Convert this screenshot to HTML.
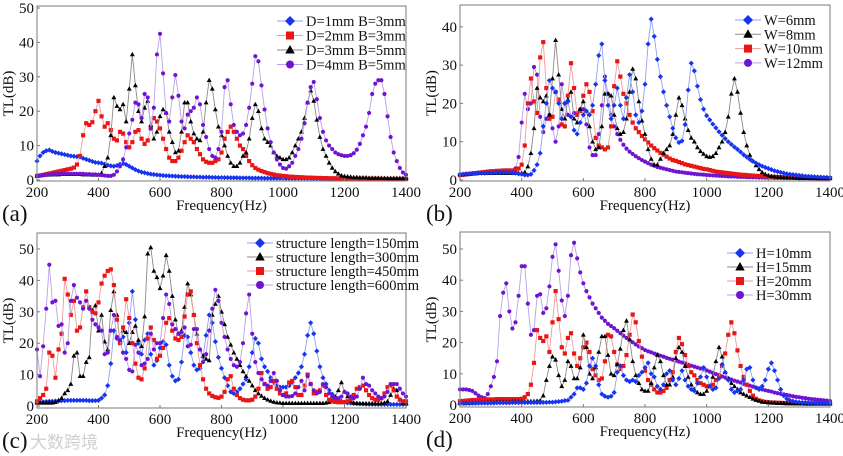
<!DOCTYPE html>
<html><head><meta charset="utf-8">
<style>
html,body{margin:0;padding:0;background:#fff;}
svg{display:block;}
svg text{font-family:"Liberation Serif","Noto Serif CJK SC",serif;}
</style></head>
<body>
<svg id="fig" width="843" height="456" viewBox="0 0 843 456" xmlns="http://www.w3.org/2000/svg" font-family="Liberation Serif, serif">
<rect x="0" y="0" width="843" height="456" fill="#fff"/>
<text x="30" y="448" style="font-family:'Liberation Sans','Noto Sans CJK SC',sans-serif" font-size="17" fill="#d0d0d0">大数跨境</text>
</svg>
<script>
const freqs = [];
for (let f = 200; f <= 1400; f += 10) freqs.push(f);
const xTicks = [200,400,600,800,1000,1200,1400];

const aBlue = [5.5,7,8,8.5,8.7,8.3,8,7.8,7.6,7.4, 7.2,7,6.9,6.8,6.7,6.3,6,5.7,5.4,5.1, 5,4.9,4.6,4.3,4.1,4,4.2,4.6,4.8,4.5, 4,3.5,3,2.6,2.3,2.1,1.9,1.7,1.6,1.5, 1.4,1.3,1.25,1.2,1.15,1.1,1.05,1,1,0.95, 0.9,0.9,0.85,0.85,0.8,0.8,0.8,0.75,0.75,0.7, 0.7,0.7,0.7,0.65,0.65,0.65,0.6,0.6,0.6,0.6, 0.55,0.55,0.55,0.55,0.5,0.5,0.5,0.5,0.5,0.5, 0.45,0.45,0.45,0.45,0.45,0.45,0.45,0.45,0.45,0.45, 0.4,0.4,0.4,0.4,0.4,0.4,0.4,0.4,0.4,0.4, 0.4,0.4,0.4,0.35,0.35,0.35,0.35,0.35,0.35,0.35, 0.3,0.3,0.3,0.3,0.3,0.3,0.3,0.3,0.3,0.3, 0.3];
const aRed = [1.2,1.3,1.5,1.7,1.9,2.1,2.3,2.5,2.7,2.9, 3.1,3.3,3.6,4.5,7,13,16.5,16,16.8,20, 23,18.5,15.5,16.5,14.5,12,11.5,14,13.5,11, 9.5,11,14,14.5,12,10.5,11.5,15,18,17, 15,12,9,6.5,5.5,5.5,6.5,8.5,11,13, 12,11,9,7.5,6,5.3,5,5,5.5,6, 8,12,14,15.5,14,12,10,9,7,5.5, 4.3,3.5,3,2.6,2.3,2,1.8,1.6,1.4,1.3, 1.2,1.1,1,0.95,0.9,0.85,0.8,0.75,0.7,0.7, 0.65,0.6,0.6,0.55,0.55,0.5,0.5,0.5,0.45,0.45, 0.45,0.45,0.4,0.4,0.4,0.4,0.4,0.35,0.35,0.35, 0.35,0.35,0.3,0.3,0.3,0.3,0.3,0.3,0.3,0.3, 0.3];
const aBlack = [1.2,1.3,1.4,1.5,1.5,1.6,1.6,1.6,1.7,1.7, 1.7,1.7,1.7,1.7,1.7,1.6,1.6,1.6,1.5,1.5, 1.5,2,4,6.5,13,24,21.5,20.5,22,17, 26.5,36.5,27.5,20,17,21,23,16,12,14, 18.5,20.5,19.5,14,11,8,8.5,14,22.5,22.5, 17,13.5,12,11.5,14,22.5,29,26.5,20.5,15.5, 13,10,7,5,4,4,5,7,8,12, 18,22,20,15,12,11,10,8,7,6.5, 6,6,6.5,8,10,12,14,18,22.5,26, 23,17.5,12.5,9,7,5,3.5,2.5,1.8,1.3, 1.1,1,0.9,0.8,0.8,0.7,0.7,0.7,0.6,0.6, 0.6,0.6,0.55,0.55,0.5,0.5,0.5,0.5,0.5,0.5, 0.5];
const aPurple = [1.2,1.3,1.4,1.5,1.6,1.7,1.7,1.8,1.8,1.8, 1.8,1.8,1.8,1.8,1.8,1.8,1.7,1.7,1.6,1.6, 1.5,1.4,1.3,1.2,1.2,1.5,2.5,4,6,9.5, 13.5,17.5,22.5,22,18,25,24,15,21,36.5, 42.5,31,19.5,17,24,30.5,24.5,17,15,19, 20,21,24,22,16,12.5,9,7,6.5,9, 14,27,29,22,16,14,13,13.5,16,21, 28,36,34.5,27.5,20.5,15,11,8,6,4.5, 3.5,3.3,4,5,7,9,12,16.5,22.5,27, 28.5,23.5,18,14,11.5,10,9,8,7.5,7.2, 7,7,7.2,7.8,8.8,10.5,13,15.5,19.5,25, 28,29,29,25,18.5,12.5,8,5.5,3.5,2.2, 1.5];

const bBlue = [1.5,1.5,1.6,1.6,1.7,1.7,1.8,1.8,1.8,1.9, 1.9,1.9,2,2,2,2,2,1.9,1.8,1.6, 1.5,1.3,1.3,1.5,2.5,4,7,14,20,26, 24,23,20,16,20,20.5,16.5,13,12,15, 17,18,17,19.5,25,32.5,35.5,26,19.5,16, 19.5,24,19.5,16,21.5,27.5,23,17,15,18, 25,35.5,42,37.5,31.5,27,23,19.5,16.5,13.5, 11,9.8,10.2,14.5,23.5,30.5,28.5,24.5,21,18.5, 16.8,15.7,14.6,13.6,12.6,11.7,10.8,10,9.3,8.6, 8,7.3,6.6,6,5.4,4.9,4.4,4,3.6,3.3, 3,2.7,2.4,2.2,2,1.8,1.6,1.5,1.4,1.3, 1.2,1.1,1,0.95,0.9,0.85,0.8,0.75,0.7,0.7, 0.65];
const bBlack = [1.5,1.5,1.6,1.6,1.7,1.7,1.8,1.8,1.8,1.8, 1.8,1.8,1.8,1.8,1.8,1.8,1.8,1.8,1.8,1.8, 1.8,2,3.5,7,13.5,24,21.5,20.5,22,17, 26.5,36.5,27.5,18.5,16,21,23,16,15,18.5, 20.5,18,14,10,8,8.5,14,22.5,22.5,22, 17,13.5,12,12.5,16,23,29,26.5,20.5,15.5, 12,8,5.5,4,4,5.5,7,8,9,12, 17,21.5,19.5,16,13,11,10,8.5,7.5,6.8, 6.2,6,6.2,7,8.5,10,12.5,16.5,22.5,26.5, 23,17.5,12.5,9,6.5,5,3.8,2.8,2,1.5, 1.2,1,0.9,0.8,0.75,0.7,0.65,0.6,0.6,0.55, 0.55,0.5,0.5,0.5,0.5,0.5,0.45,0.45,0.45,0.45, 0.45];
const bRed = [1.3,1.4,1.5,1.6,1.7,1.8,1.9,2,2.1,2.2, 2.3,2.3,2.4,2.4,2.5,2.5,2.5,2.5,2.5,3, 4,9,20,26.5,20.5,17.5,32,36,24,16, 16.5,23,21,14.5,14,22,30.5,24,17,18, 22,25,23,18,11,9,8.5,8,8.5,14, 24.5,31,27,22.5,20,17,15,13.5,12.5,11.5, 10.6,9.8,9,8.3,7.7,7.1,6.6,6.1,5.6,5.2, 5,4.7,4.4,4.1,3.9,3.7,3.5,3.3,3.1,2.9, 2.8,2.6,2.4,2.2,2.1,2,1.9,1.8,1.7,1.6, 1.5,1.4,1.35,1.3,1.2,1.15,1.1,1.05,1,0.95, 0.9,0.85,0.8,0.8,0.75,0.7,0.7,0.65,0.65,0.6, 0.6,0.6,0.55,0.55,0.5,0.5,0.5,0.5,0.5,0.5, 0.5];
const bPurple = [1.2,1.3,1.4,1.5,1.6,1.7,1.8,1.9,2,2.1, 2.2,2.3,2.3,2.4,2.4,2.5,2.5,2.5,3,6, 15,22.5,18.5,20,29.5,27.5,16.5,12.5,16,17, 13.5,10,14,25,20,17,16.5,17.5,17.5,18.5, 18.5,14.5,8.5,6.5,6.5,12,19.5,27,22.5,17, 14,12,10.5,9.2,8.2,7.4,6.8,6.2,5.7,5.2, 4.8,4.4,4,3.7,3.4,3.2,3,2.8,2.6,2.4, 2.2,2.1,2,1.9,1.8,1.7,1.6,1.5,1.45,1.4, 1.3,1.25,1.2,1.15,1.1,1.05,1,0.95,0.9,0.9, 0.85,0.8,0.8,0.75,0.75,0.7,0.7,0.65,0.65,0.6, 0.6,0.6,0.55,0.55,0.55,0.5,0.5,0.5,0.5,0.5, 0.45,0.45,0.45,0.45,0.45,0.45,0.45,0.45,0.45,0.45, 0.45];

const cBlue = [1,1.2,1.3,1.4,1.5,1.5,1.6,1.6,1.7,1.7, 1.8,1.8,1.8,1.8,1.8,1.8,1.8,1.7,1.7,1.7, 1.8,2.5,3.5,6.5,13.5,24,21.5,20.5,22,17, 26.5,36.5,27.5,20,16.5,21,23,16.5,13,14.5, 18.5,20.5,19.5,13,9.5,8,8.5,14,22.5,22, 17,13,11.5,12,15.5,22.5,29,26.5,20.5,15.5, 12,9,6.5,4.5,4,4.5,5.5,7,8.5,12.5, 17,21.5,20,15,12.5,11,9,7.5,6.5,6, 6,6,6.5,7.5,9,10.5,12.5,16.5,22.5,26.5, 23,17.5,12.5,9,7,5,3.8,2.8,2,1.5, 1.2,1,0.9,0.8,0.75,0.7,0.65,0.6,0.6,0.55, 0.55,0.5,0.5,0.5,0.5,0.5,0.5,0.5,0.5,0.5, 0.5];
const cBlack = [1,1,1,1,1,1,1.2,1.8,2.5,4, 5,7,16,17,9.5,9.5,14,15.5,30.5,32, 24,29,20.5,18,30.5,36.5,29,20.5,24,23.5, 20,23.5,25.5,21,19,28.5,48.5,50.5,43,41, 37.5,41.5,48,43,35,27.5,23,24,31.5,39, 35.5,29,23,18,16,15,14.5,29,32.5,35, 30,26,22,19.5,17,15,13,11,9.5,8, 6.5,5,4,3.2,2.5,2,1.6,1.3,1.1,1, 0.9,0.9,0.9,0.9,0.9,0.9,0.9,0.9,0.9,0.9, 0.9,0.9,0.9,0.9,1,1.2,1.8,3,5,7.5, 4.5,3,1.5,1,0.9,0.8,0.8,0.8,0.8,0.8, 0.8,0.8,0.9,1,1.5,3.5,5.5,5,2,1, 0.8];
const cRed = [1.5,2.5,3.5,5.5,17,16,9,18,23,40.5, 35.5,29,33.5,24,25,31.5,36.5,31.5,30,29.5, 33,39,41.5,43,43.5,38.5,27.5,20,25,34, 28,20,13.5,9,8.5,12,21.5,25,21,15, 16,18.5,26.5,28,24,21.5,21,22,28.5,35.5, 36.5,29,20,13,8.5,5.5,4,3.2,2.8,2.6, 3,4.5,8.5,9.5,5.5,3.5,2.5,2,1.8,1.8, 2,3,5.5,10.5,7,5.5,6,8,5.5,4, 3.5,4,7.5,8,6,3.5,3.5,6.5,10,7, 4,4.5,5,6.5,3.5,2,1.5,1.3,1.2,1.2, 1.2,1.5,2,3.5,5.5,6,6.5,5,3.5,2.5, 2,2,2.5,4,6,6.5,5,3,2,1.5, 1.5];
const cPurple = [18,9.5,19,31,45,33,33.5,25.5,26,17, 20,33.5,38.5,34.5,33,31,33.5,31,27.5,26, 25,24,16.5,17,24,29,22,21,17,15, 11.5,11,19.5,17,13,13.5,15,23,18,20, 20,28,35.5,32.5,26,24.5,23,23.5,25,19, 19.5,24.5,24.5,18,14,16.5,24,31,37,33.5, 26.5,22,18,15,13,12.5,14,20,29.5,35.5, 23,14,10.5,8.5,7,6.5,8,10.5,8,5, 3.5,3,3,3.2,4,6,8,5,9.5,7, 5,4,4.5,7,6,4,3,2.5,2.5,3, 4.5,4,3,2.5,3,5.5,9,7,6.5,5, 4,3,2.5,3,4.5,7,7,7,5.5,4, 3];

const dBlue = [0.5,0.5,0.5,0.5,0.55,0.55,0.6,0.6,0.6,0.6, 0.65,0.65,0.7,0.7,0.7,0.7,0.7,0.75,0.75,0.75, 0.75,0.8,0.8,0.8,0.8,0.8,0.8,0.85,0.85,0.9, 0.9,1,1.1,1.2,1.4,1.5,2.5,3.5,5.5,5.5, 5,7,12.5,15,12.5,6.5,3.5,2.8,2.5,2.8, 4,10.5,12.5,9.5,8,7.5,8,7.5,9.5,10.5, 12,13.5,10,9,6,5,6.5,10,11,8, 6.5,8.5,11,8,6,5,4.5,7,9,12, 9,6,5,5.5,8.5,13,10.5,8,5,4, 4.5,5,8,11.5,12,8,5.5,5,6,8, 11.5,13.5,11,8,5,3,2,1.5,1.2,1, 0.9,0.8,0.8,0.7,0.7,0.7,0.6,0.6,0.6,0.6, 0.6];
const dBlack = [0.5,0.5,0.6,0.6,0.7,0.7,0.8,0.8,0.8,0.9, 0.9,0.9,1,1,1,1,1,1.1,1.1,1.1, 1.1,1.2,1.2,1.2,1.2,1.3,1.4,3,8,12.5, 15.5,14.5,9.5,6,8,14,12.5,8.5,8.5,12, 22.5,18.5,10,8.5,12,17,22,22,16,10, 9.5,13,18,24,27,21,14,9.5,7,5, 4.5,4.5,7,12,16,14,9.5,6.5,6.5,9, 15,18.5,17,12.5,9,6.5,5,4,3.5,3.5, 4.5,6,9,14,18.5,15.5,10.5,8.5,7,6, 5,4,3.5,3,2.5,2,1.6,1.3,1,0.9, 0.8,0.7,0.7,0.6,0.6,0.55,0.5,0.5,0.5,0.45, 0.45,0.45,0.4,0.4,0.4,0.4,0.4,0.4,0.4,0.4, 0.4];
const dRed = [1.2,1.3,1.4,1.5,1.6,1.6,1.7,1.7,1.8,1.8, 1.8,1.8,1.9,1.9,1.9,1.9,1.9,1.9,1.9,1.9, 2,2.5,3.5,6.5,13.5,24,21.5,20.5,22,17, 26.5,36.5,27.5,18.5,16.5,21.5,23,16.5,12.5,15, 18.5,20,17,11.5,9.5,8,8.5,14,22.5,22, 17,13,11.5,12.5,16,22.5,29,26.5,20.5,15.5, 11,8,6.5,5,4,4,4.5,5.5,8,10.5, 17,21.5,19.5,16,12.5,10.5,9.5,8,7,6.5, 6,6,6.5,8,9.5,12.5,16.5,22.5,26.5,23, 17.5,12.5,9,6.5,4.5,3,2,1.5,1.2,1, 0.9,0.8,0.8,0.7,0.7,0.65,0.6,0.6,0.55,0.55, 0.5,0.5,0.5,0.5,0.5,0.5,0.5,0.5,0.5,0.5, 0.5];
const dPurple = [5,5,5,4.8,4.5,3.8,3,2.5,2.2,3.5, 6,9,14,28.5,36,39,30,24.5,26.5,35, 44.5,44.5,32.5,22.5,24,35,35.5,29.5,31,38, 47.5,51.5,43,33.5,28.5,35,48,52,47,42.5, 39,36.5,34.5,32.5,31,29.5,28,27,26,25.3, 24.6,23.8,23,22.2,21.5,20.8,20.1,19.4,18.8,18.2, 17.6,17.2,16.9,16.5,16.2,15.8,15.5,15.1,14.8,14.5, 14.2,13.9,13.6,13.3,12.9,12.6,12.3,12,11.7,11.4, 11.1,10.7,10.3,9.9,9.6,9.2,8.8,8.5,8.2,7.8, 7.5,7.2,6.8,6.5,6.2,5.9,5.6,5.3,5,4.7, 4.5,4.3,4,3.8,3.6,3.4,3.2,3,2.8,2.6, 2.5,2.3,2.2,2,1.9,1.8,1.7,1.6,1.5,1.4, 1.3];

const aNames = ["D=1mm B=3mm","D=2mm B=3mm","D=3mm B=5mm","D=4mm B=5mm"];
const bNames = ["W=6mm","W=8mm","W=10mm","W=12mm"];
const cNames = ["structure length=150mm","structure length=300mm","structure length=450mm","structure length=600mm"];
const dNames = ["H=10mm","H=15mm","H=20mm","H=30mm"];
const aYTicks = [0,10,20,30,40,50];
const bYTicks = [0,10,20,30,40];
const cYTicks = [0,10,20,30,40,50];
const dYTicks = [0,10,20,30,40,50];

const NS = "http://www.w3.org/2000/svg";
const svg = document.getElementById('fig');
const SERIF = "Liberation Serif, serif";
const STY = {
  blue:{m:'diamond',fill:'#1734ee',line:'#8fa2f2'},
  red:{m:'square',fill:'#ea1616',line:'#f19a9a'},
  black:{m:'triangle',fill:'#000',line:'#8a8a8a'},
  purple:{m:'circle',fill:'#6e14d2',line:'#b9a0ea'}
};
function mk(tag, attrs, parent){
  const e = document.createElementNS(NS, tag);
  for (const k in attrs) e.setAttribute(k, attrs[k]);
  if (tag==='text') e.setAttribute('font-family', SERIF);
  (parent||svg).appendChild(e);
  return e;
}
function marker(g, kind, cx, cy, s, fill){
  let e;
  if (kind==='diamond') e = mk('polygon',{points:`${cx},${cy-s} ${cx+s},${cy} ${cx},${cy+s} ${cx-s},${cy}`,fill:fill},g);
  else if (kind==='square') e = mk('rect',{x:cx-s*0.8,y:cy-s*0.8,width:s*1.6,height:s*1.6,fill:fill},g);
  else if (kind==='triangle') e = mk('polygon',{points:`${cx},${cy-s} ${cx+s*0.95},${cy+s*0.7} ${cx-s*0.95},${cy+s*0.7}`,fill:fill},g);
  else e = mk('circle',{cx:cx,cy:cy,r:s*0.8,fill:fill},g);
  return e;
}
function panel(p){
  const g = mk('g',{});
  
  
  const X = f => p.x0 + (f-200)/1200*(p.x1-p.x0);
  const Y = v => p.yZero - v*p.yPer;
  p.series.forEach((s,si)=>{
    const st = STY[s.color];
    const sg = mk('g',{},g);
    
    
    const pts = s.data.map((v,i)=>X(freqs[i]).toFixed(1)+','+Y(v).toFixed(1)).join(' ');
    const pl = mk('polyline',{points:pts,fill:'none',stroke:st.line,'stroke-width':0.9},sg);
    
    
    s.data.forEach((v,i)=>{
      const m = marker(sg, st.m, X(freqs[i]), Y(v), 2.6, st.fill);
      
      
    });
  });
  const fr = mk('rect',{x:p.x0,y:p.top,width:p.x1-p.x0,height:p.bot-p.top,fill:'none',stroke:'#7a7a7a','stroke-width':1},g);
  
  
  p.yTicks.forEach(t=>{
    const tx = mk('text',{x:p.x0-3,y:Y(t)+5,'text-anchor':'end','font-size':15,fill:'#111'},g);
    tx.textContent = t;
    
    
    mk('line',{x1:p.x0,x2:p.x0+3,y1:Y(t),y2:Y(t),stroke:'#7a7a7a','stroke-width':1},g);
  });
  xTicks.forEach(t=>{
    const tx = mk('text',{x:X(t),y:p.bot+16,'text-anchor':'middle','font-size':15,fill:'#111'},g);
    tx.textContent = t;
    
    
    mk('line',{x1:X(t),x2:X(t),y1:p.bot,y2:p.bot-3,stroke:'#7a7a7a','stroke-width':1},g);
  });
  const xt = mk('text',{x:(p.x0+p.x1)/2,y:p.bot+29,'text-anchor':'middle','font-size':15,fill:'#111'},g);
  xt.textContent = 'Frequency(Hz)';
  
  
  const cy = (p.top+p.bot)/2;
  const yt = mk('text',{x:p.x0-24,y:cy,'text-anchor':'middle','font-size':15,fill:'#111',transform:`rotate(-90 ${p.x0-24} ${cy})`},g);
  yt.textContent = 'TL(dB)';
  
  
  const lt = mk('text',{x:p.letterX,y:p.bot+40,'font-size':23,fill:'#111'},g);
  lt.textContent = '('+p.id+')';
  
  
  const lg = mk('g',{},g);
  
  
  p.legendOrder.forEach((si,k)=>{
    const s = p.series[si], st = STY[s.color];
    const ly = p.legY + k*p.legDy;
    const eg = mk('g',{},lg);
    
    
    mk('line',{x1:p.legX-13,x2:p.legX+13,y1:ly,y2:ly,stroke:st.line,'stroke-width':1},eg);
    marker(eg, st.m, p.legX, ly, 5, st.fill);
    const tx = mk('text',{x:p.legX+16,y:ly+5,'font-size':14.5,fill:'#111'},eg);
    tx.textContent = s.name;
  });
}
panel({id:'a',x0:37,x1:406,top:6,bot:181,yZero:180,yPer:3.44,yTicks:aYTicks,letterX:2,
  series:[{data:aBlue,color:'blue',name:aNames[0]},{data:aRed,color:'red',name:aNames[1]},{data:aBlack,color:'black',name:aNames[2]},{data:aPurple,color:'purple',name:aNames[3]}],
  legendOrder:[0,1,2,3],legX:290,legY:21,legDy:14.5});
panel({id:'b',x0:460,x1:830,top:5,bot:181,yZero:180,yPer:3.83,yTicks:bYTicks,letterX:426,
  series:[{data:bPurple,color:'purple',name:bNames[3]},{data:bRed,color:'red',name:bNames[2]},{data:bBlack,color:'black',name:bNames[1]},{data:bBlue,color:'blue',name:bNames[0]}],
  legendOrder:[3,2,1,0],legX:748,legY:20,legDy:14.3});
panel({id:'c',x0:37,x1:406,top:233,bot:408,yZero:406,yPer:3.14,yTicks:cYTicks,letterX:2,
  series:[{data:cBlue,color:'blue',name:cNames[0]},{data:cBlack,color:'black',name:cNames[1]},{data:cRed,color:'red',name:cNames[2]},{data:cPurple,color:'purple',name:cNames[3]}],
  legendOrder:[0,1,2,3],legX:260,legY:243,legDy:14});
panel({id:'d',x0:460,x1:830,top:232,bot:407,yZero:405,yPer:3.12,yTicks:dYTicks,letterX:426,
  series:[{data:dPurple,color:'purple',name:dNames[3]},{data:dRed,color:'red',name:dNames[2]},{data:dBlack,color:'black',name:dNames[1]},{data:dBlue,color:'blue',name:dNames[0]}],
  legendOrder:[3,2,1,0],legX:740,legY:253,legDy:14});
</script>
</body></html>
